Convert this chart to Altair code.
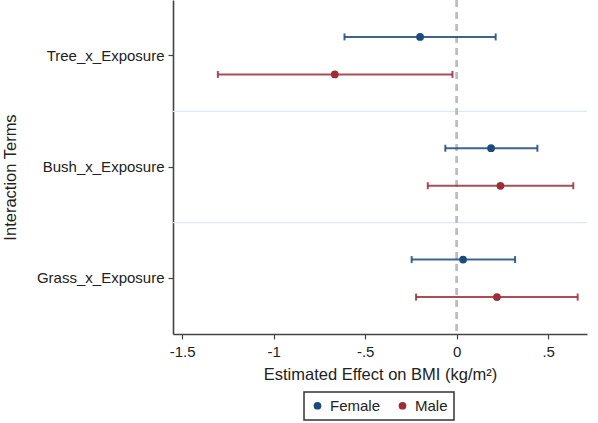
import altair as alt
import pandas as pd

# Interaction terms and estimated effects (with 95% CI) by sex
terms = ["Tree_x_Exposure", "Bush_x_Exposure", "Grass_x_Exposure"]
sexes = ["Female", "Male"]

female_est = [-0.200, 0.188, 0.035]
female_lo = [-0.613, -0.062, -0.246]
female_hi = [0.213, 0.441, 0.319]

male_est = [-0.666, 0.239, 0.220]
male_lo = [-1.305, -0.158, -0.222]
male_hi = [-0.023, 0.637, 0.661]

x_ticks = [-1.5, -1, -0.5, 0, 0.5]

rows = []
for i, t in enumerate(terms):
    rows.append({"term": t, "sex": "Female", "est": female_est[i], "lo": female_lo[i], "hi": female_hi[i]})
    rows.append({"term": t, "sex": "Male", "est": male_est[i], "lo": male_lo[i], "hi": male_hi[i]})
df = pd.DataFrame(rows)

sep_df = pd.DataFrame({"term": terms[1:]})

FONT = "Liberation Sans"
colors = ["#1c4a7c", "#9a2f38"]

y_scale = alt.Scale(domain=terms, paddingInner=0, paddingOuter=0)
yoff_scale = alt.Scale(domain=sexes, paddingInner=0, paddingOuter=0.484)
color_scale = alt.Scale(domain=sexes, range=colors)

y_axis = alt.Axis(
    title="Interaction Terms",
    titleFont=FONT,
    titleFontSize=16.5,
    titleFontWeight="normal",
    titleColor="#222",
    titleAngle=270,
    titleX=-163,
    titleY=177,
    titleAlign="center",
    titleBaseline="middle",
    labelFont=FONT,
    labelFontSize=15,
    labelColor="#222",
    labelPadding=4,
    tickSize=5,
    tickColor="#444",
    tickWidth=1.2,
    domainColor="#444",
    domainWidth=1.6,
    grid=False,
)
y_enc = alt.Y("term:N", scale=y_scale, sort=terms, axis=y_axis)

x_scale = alt.Scale(domain=[-1.55, 0.712], nice=False, zero=False)
x_axis = alt.Axis(
    title="Estimated Effect on BMI (kg/m²)",
    titleFont=FONT,
    titleFontSize=16.5,
    titleFontWeight="normal",
    titleColor="#222",
    titleY=40,
    titleBaseline="middle",
    values=x_ticks,
    labelExpr="datum.value == -1.5 ? '-1.5' : datum.value == -1 ? '-1' : datum.value == -0.5 ? '-.5' : datum.value == 0 ? '0' : '.5'",
    labelFont=FONT,
    labelFontSize=15,
    labelColor="#222",
    labelPadding=5,
    tickSize=5,
    tickColor="#444",
    tickWidth=1.2,
    domainColor="#444",
    domainWidth=1.6,
    grid=False,
)

yoff = alt.YOffset("sex:N", scale=yoff_scale)
color_nolegend = alt.Color("sex:N", scale=color_scale, legend=None)

separators = alt.Chart(sep_df).mark_rule(color="#dfe9ee", strokeWidth=1.2).encode(
    y=alt.Y("term:N", scale=y_scale, sort=terms, bandPosition=0, axis=y_axis)
)

zero_line = alt.Chart(df).mark_rule(color="#bdbdbd", strokeWidth=1.8, strokeDash=[7, 5]).encode(
    x=alt.datum(0, scale=x_scale, axis=x_axis)
)

bars = alt.Chart(df).mark_rule(strokeWidth=2, opacity=0.85).encode(
    x=alt.X("lo:Q", scale=x_scale, axis=x_axis),
    x2="hi:Q",
    y=y_enc,
    yOffset=yoff,
    color=color_nolegend,
)

cap_lo = alt.Chart(df).mark_tick(size=7, thickness=2, opacity=0.85).encode(
    x=alt.X("lo:Q", scale=x_scale, axis=x_axis),
    y=y_enc,
    yOffset=yoff,
    color=color_nolegend,
)

cap_hi = alt.Chart(df).mark_tick(size=7, thickness=2, opacity=0.85).encode(
    x=alt.X("hi:Q", scale=x_scale, axis=x_axis),
    y=y_enc,
    yOffset=yoff,
    color=color_nolegend,
)

points = alt.Chart(df).mark_point(filled=True, opacity=1, size=60).encode(
    x=alt.X("est:Q", scale=x_scale, axis=x_axis),
    y=y_enc,
    yOffset=yoff,
    color=alt.Color(
        "sex:N",
        scale=color_scale,
        legend=alt.Legend(
            title=None,
            orient="none",
            legendX=131,
            legendY=392,
            direction="horizontal",
            symbolType="circle",
            symbolSize=60,
            symbolStrokeWidth=0,
            symbolOpacity=1,
            labelFont=FONT,
            labelFontSize=15,
            labelColor="#222",
            labelOffset=5,
            columnPadding=14,
            padding=6,
            strokeColor="#333",
            fillColor="white",
        ),
    ),
)

chart = (
    alt.layer(separators, zero_line, bars, cap_lo, cap_hi, points)
    .resolve_legend(color="independent")
    .properties(
        width=414,
        height=334,
        autosize=alt.AutoSizeParams(type="none"),
        padding={"left": 173, "top": 0, "right": 11, "bottom": 89},
        background="white",
    )
    .configure_view(stroke=None)
    .configure_legend(strokeWidth=1.5)
)

chart.save("out.html", embed_options={"renderer": "svg", "actions": False})
